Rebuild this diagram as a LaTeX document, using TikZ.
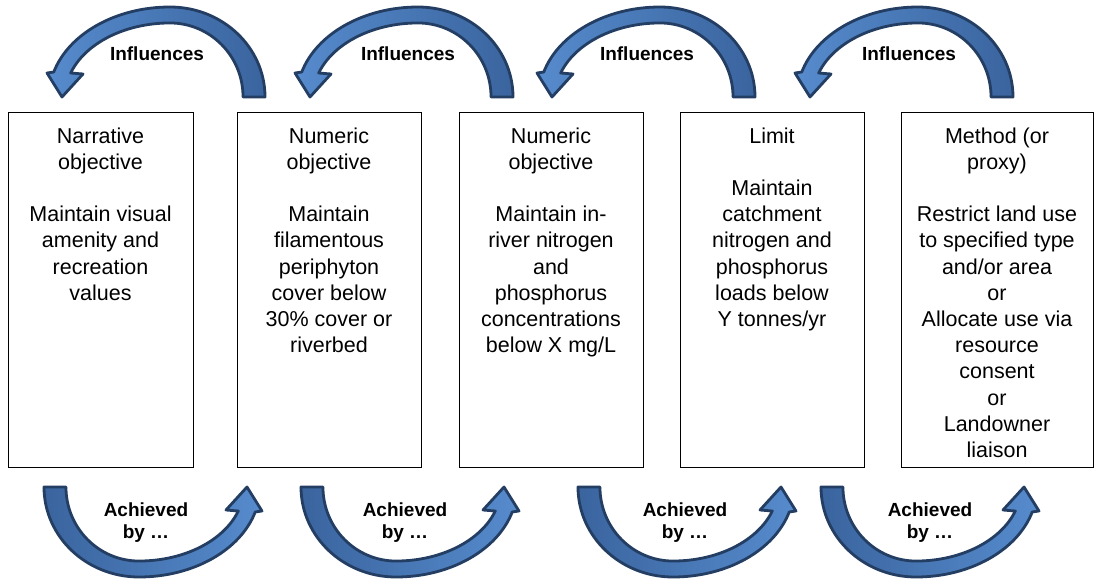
\documentclass[tikz,border=0pt]{standalone}
\usepackage{fontspec}
\setmainfont{Liberation Sans}
\definecolor{arrowdark}{RGB}{35,62,98}
\definecolor{arrowlight}{RGB}{86,139,205}
\definecolor{arrowmid}{RGB}{58,100,158}
\tikzset{
  % curved block arrow: tail on the right, head on the left pointing down
  curved arrow/.pic={
    \path[pic actions] (95,0)
      arc[start angle=0,end angle=90,x radius=95,y radius=90]
      arc[start angle=90,end angle=163.9,x radius=121,y radius=90]
      -- (-123,24) -- (-108,0) -- (-87,23) -- (-99.3,24)
      arc[start angle=161.1,end angle=90,x radius=105,y radius=74]
      arc[start angle=90,end angle=0,x radius=73,y radius=74] -- cycle;
  }
}
\begin{document}
\begin{tikzpicture}[x=1pt,y=1pt,
  box/.style={draw=black,line width=1.4pt,fill=white,inner sep=0pt,anchor=north west},
  boxtext/.style={anchor=north,inner sep=0pt,align=center,font=\fontsize{21.5}{26.2}\selectfont},
  lbl/.style={anchor=north,inner sep=0pt,align=center,font=\fontsize{19}{22.6}\selectfont\bfseries},
  topshade/.style={left color=arrowlight,right color=arrowmid,draw=arrowdark,line width=2.8pt,line join=round},
  botshade/.style={left color=arrowmid,right color=arrowlight,draw=arrowdark,line width=2.8pt,line join=round},
]
\useasboundingbox[fill=white] (0,0) rectangle (1101,-581);

% boxes
\node[box,minimum width=185pt,minimum height=355pt] (b1) at (8,-112) {};
\node[box,minimum width=184pt,minimum height=355pt] (b2) at (237,-112) {};
\node[box,minimum width=184pt,minimum height=355pt] (b3) at (459,-112) {};
\node[box,minimum width=184pt,minimum height=355pt] (b4) at (680,-112) {};
\node[box,minimum width=192pt,minimum height=355pt] (b5) at (901,-112) {};

% box texts
\node[boxtext] (t1) at (100.5,-127.3) {Narrative\\objective\\[26.2pt]Maintain visual\\amenity and\\recreation\\values};
\node[boxtext] (t2) at (329,-127.3) {Numeric\\objective\\[26.2pt]Maintain\\filamentous\\periphyton\\cover below\\30\% cover or\\riverbed};
\node[boxtext] (t3) at (551,-127.3) {Numeric\\objective\\[26.2pt]Maintain in-\\river nitrogen\\and\\phosphorus\\concentrations\\below X mg/L};
\node[boxtext] (t4) at (772,-127.3) {Limit\\[26.2pt]Maintain\\catchment\\nitrogen and\\phosphorus\\loads below\\Y tonnes/yr};
\node[boxtext] (t5) at (997,-127.3) {Method (or\\proxy)\\[26.2pt]Restrict land use\\to specified type\\and/or area\\or\\Allocate use via\\resource\\consent\\or\\Landowner\\liaison};

% upper arrows
\pic[topshade] (i1) at (170,-97) {curved arrow};
\pic[topshade] (i2) at (418,-97) {curved arrow};
\pic[topshade] (i3) at (660,-97) {curved arrow};
\pic[topshade] (i4) at (918,-97) {curved arrow};
\node[lbl] (li1) at (157,-46.5) {Influences};
\node[lbl] (li2) at (408,-46.5) {Influences};
\node[lbl] (li3) at (647,-46.5) {Influences};
\node[lbl] (li4) at (909,-46.5) {Influences};

% lower arrows
\pic[botshade,rotate=180] (a1) at (139,-487) {curved arrow};
\pic[botshade,rotate=180] (a2) at (396,-487) {curved arrow};
\pic[botshade,rotate=180] (a3) at (673,-487) {curved arrow};
\pic[botshade,rotate=180] (a4) at (916,-487) {curved arrow};
\node[lbl] (la1) at (146,-502.3) {Achieved\\by …};
\node[lbl] (la2) at (405,-502.3) {Achieved\\by …};
\node[lbl] (la3) at (685,-502.3) {Achieved\\by …};
\node[lbl] (la4) at (930,-502.3) {Achieved\\by …};
\end{tikzpicture}
\end{document}
